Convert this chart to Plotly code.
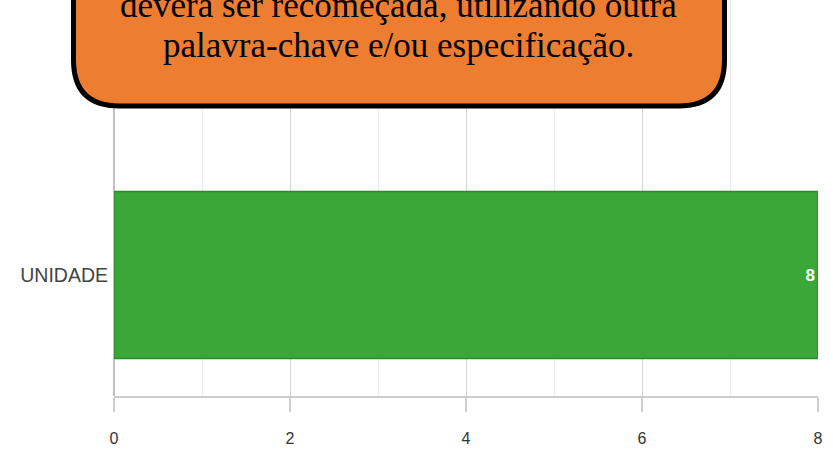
import plotly.graph_objects as go

categories = ["UNIDADE"]
values = [8]
x_ticks = [0, 2, 4, 6, 8]
callout_lines = ["deverá ser recomeçada, utilizando outra", "palavra-chave e/ou especificação."]

W, H = 833, 455
L, R, T, B = 114, 15, 0, 59
pw, ph = W - L - R, H - T - B

def px_x(x):
    return (x - L) / pw

def px_y(y):
    return (H - B - y) / ph

fig = go.Figure()
fig.add_trace(go.Bar(
    y=categories, x=values, orientation="h", width=1,
    marker=dict(color="#39a837", line=dict(color="#2b8c2b", width=1.5)),
    text=[str(v) for v in values], textposition="inside", insidetextanchor="end",
    textangle=0,
    textfont=dict(color="white", size=17, family="Liberation Sans", weight="bold"),
    cliponaxis=False, hoverinfo="skip",
))

# callout rounded box
x0, x1 = px_x(73.5), px_x(724.5)
y0, y1 = px_y(106), px_y(-60)
rx, ry = 46 / pw, 46 / ph
path = (f"M {x0+rx},{y0} L {x1-rx},{y0} Q {x1},{y0} {x1},{y0+ry} "
        f"L {x1},{y1-ry} Q {x1},{y1} {x1-rx},{y1} L {x0+rx},{y1} "
        f"Q {x0},{y1} {x0},{y1-ry} L {x0},{y0+ry} Q {x0},{y0} {x0+rx},{y0} Z")
fig.add_shape(type="path", path=path, xref="paper", yref="paper",
              fillcolor="#ED7D31", line=dict(color="black", width=5), layer="above")
for line, ymid in zip(callout_lines, [5, 45]):
    fig.add_annotation(text=line, xref="paper", yref="paper", x=px_x(398), y=px_y(ymid),
                       xanchor="center", yanchor="middle", showarrow=False,
                       font=dict(family="Liberation Serif", size=35, color="black"))

fig.update_layout(
    width=W, height=H, margin=dict(l=L, r=R, t=T, b=B),
    plot_bgcolor="white", paper_bgcolor="white", showlegend=False,
    xaxis=dict(range=[0, 8], tickvals=x_ticks, showgrid=True, gridcolor="#d6d6d6",
               gridwidth=1, zeroline=True, zerolinecolor="#c4c4c4", zerolinewidth=1.5,
               showline=True, linecolor="#cccccc", linewidth=1.5,
               ticks="outside", ticklen=14, tickcolor="#cccccc", tickwidth=1.5,
               tickfont=dict(family="Liberation Sans", size=16, color="#333333"),
               ticklabelstandoff=13,
               minor=dict(dtick=1, showgrid=True, gridcolor="#ebebeb", gridwidth=1, ticks=""),
               fixedrange=True),
    yaxis=dict(range=[-121/167, -121/167 + ph/167], showgrid=False, zeroline=False,
               ticks="", tickfont=dict(family="Liberation Sans", size=19.5, color="#444444"),
               ticklabelstandoff=5, fixedrange=True),
)
fig.write_html("out.html", post_script="document.body.style.margin='0';",
               config={"displayModeBar": False, "staticPlot": True})
